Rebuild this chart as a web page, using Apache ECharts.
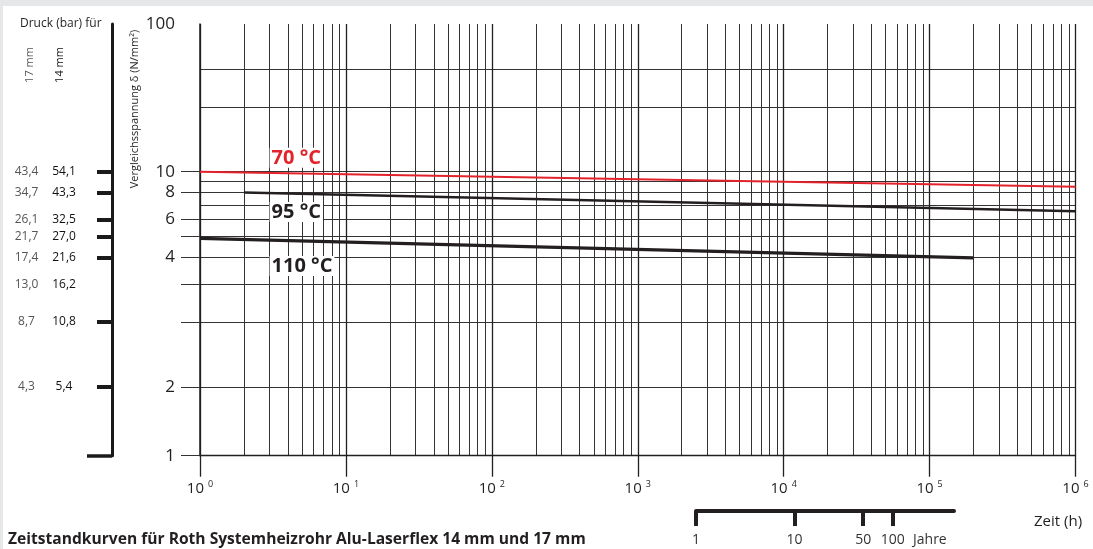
<!DOCTYPE html>
<html lang="de">
<head>
<meta charset="utf-8">
<title>Zeitstandkurven Alu-Laserflex</title>
<script src="https://cdn.jsdelivr.net/npm/echarts@6.0.0/dist/echarts.min.js"></script>
<style>
  html, body { margin: 0; padding: 0; background: #fff; }
  #chart { width: 1093px; height: 549px; }
</style>
</head>
<body>
<div id="chart"></div>
<script>
// Achsenbereiche
const hoursMin = 1;
const hoursMax = 1e6;
const stressMin = 0.478;
const stressMax = 48.6;

// Zeitstandkurven: Zeit (h) / Vergleichsspannung (N/mm²)
const curveNames = ['70 °C', '95 °C', '110 °C'];
const hours70 = [1, 1e6];
const stress70 = [10, 8.5];
const hours95 = [2, 1e6];
const stress95 = [8.0, 6.55];
const hours110 = [1, 2e5];
const stress110 = [4.9, 3.97];

// Rasterlinien
const gridHours = [2, 3, 4, 5, 6, 7, 8, 9,
  20, 30, 40, 50, 60, 70, 80, 90,
  200, 300, 400, 500, 600, 700, 800, 900,
  2000, 3000, 4000, 5000, 6000, 7000, 8000, 9000,
  20000, 30000, 40000, 50000, 60000, 70000, 80000, 90000,
  200000, 300000, 400000, 500000, 600000, 700000, 800000, 900000];
const gridStress = [1, 2, 3, 4, 5, 6, 7, 8, 9, 10, 20, 30];

// Spannungsachse: Striche und Beschriftung (so wie im Original gedruckt)
const stressTicks = [stressMin, 1, 2, 3, 4, 5, 6, 8, 10];
const stressLabelAt = [stressMin, 1, 4, 6, 8, 10, stressMax];
const stressLabelText = ['1', '2', '4', '6', '8', '10', '100'];

// Druckachse (bar) für 17 mm / 14 mm
const pressLevels = [1, 2, 3, 4, 5, 6, 8, 10];
const pressTickAt = [1, 2, 4, 5, 6, 8, 10];
const press17 = ['4,3', '8,7', '13,0', '17,4', '21,7', '26,1', '34,7', '43,4'];
const press14 = ['5,4', '10,8', '16,2', '21,6', '27,0', '32,5', '43,3', '54,1'];

// Jahresskala
const yearTicks = [1, 10, 50, 100];
const yearMax = 418;

const font = 'Open Sans';
const ink = '#231f20';
const red = '#e3222b';

function findIdx(list, v) {
  for (let i = 0; i < list.length; i++) {
    if (Math.abs(list[i] - v) / list[i] < 0.01) return i;
  }
  return -1;
}

const pairs = (xs, ys) => xs.map((x, i) => [x, ys[i]]);

function curveLabel(text, color, coord) {
  return {
    symbolSize: 0,
    silent: true,
    data: [{ coord: coord }],
    label: {
      show: true, position: 'right', distance: 0,
      formatter: text, color: color,
      fontFamily: font, fontSize: 20, fontWeight: 'bold',
      backgroundColor: '#fff', padding: [0, 2, 0, 2]
    }
  };
}

const chart = echarts.init(document.getElementById('chart'));

chart.setOption({
  animation: false,
  backgroundColor: '#fff',
  textStyle: { fontFamily: font, color: ink },
  grid: [
    { left: 200, right: 17.5, top: 24, bottom: 93.3 },
    { left: 696, width: 258, top: 510, height: 1 }
  ],
  xAxis: [
    {
      type: 'log', logBase: 10, min: hoursMin, max: hoursMax, gridIndex: 0,
      position: 'bottom',
      axisLine: { lineStyle: { color: ink, width: 1.3 } },
      axisTick: { show: true, length: 21, lineStyle: { color: ink, width: 1.3 } },
      splitLine: { show: true, lineStyle: { color: ink, width: 1.3 } },
      axisLabel: {
        margin: 24,
        formatter: function (v) {
          return '{b|10}{s|' + Math.round(Math.log10(v)) + '}';
        },
        rich: {
          b: { fontSize: 15, color: ink, fontFamily: font },
          s: { fontSize: 9, color: ink, fontFamily: font, padding: [0, 0, 10, 4] }
        }
      }
    },
    {
      type: 'log', logBase: 10, min: hoursMin, max: hoursMax, gridIndex: 0,
      position: 'bottom',
      axisLine: { show: false },
      axisTick: { show: false, customValues: gridHours },
      axisLabel: { show: false },
      splitLine: { show: true, lineStyle: { color: '#333', width: 1 } }
    },
    {
      type: 'log', logBase: 10, min: 1, max: yearMax, gridIndex: 1,
      position: 'bottom',
      axisLine: { lineStyle: { color: ink, width: 4 } },
      axisTick: { customValues: yearTicks, length: 15, lineStyle: { color: ink, width: 4 } },
      axisLabel: { customValues: yearTicks, margin: 22, fontSize: 14, color: '#333' },
      splitLine: { show: false }
    }
  ],
  yAxis: [
    {
      type: 'log', logBase: 10, min: stressMin, max: stressMax, gridIndex: 0,
      position: 'left',
      axisLine: { show: false },
      axisTick: { show: false, customValues: gridStress },
      axisLabel: { show: false },
      splitLine: { show: true, lineStyle: { color: '#333', width: 1 } }
    },
    {
      type: 'log', logBase: 10, min: stressMin, max: stressMax, gridIndex: 0,
      position: 'left',
      axisLine: { show: true, lineStyle: { color: ink, width: 1.5 } },
      axisTick: { customValues: stressTicks, length: 19, lineStyle: { color: '#333', width: 1 } },
      axisLabel: {
        customValues: stressLabelAt, margin: 25, fontSize: 17, color: ink,
        formatter: function (v) {
          const i = findIdx(stressLabelAt, v);
          return i < 0 ? '' : stressLabelText[i];
        }
      },
      splitLine: { show: false }
    },
    {
      type: 'log', logBase: 10, min: stressMin, max: stressMax, gridIndex: 0,
      position: 'left', offset: 88,
      axisLine: { show: true, lineStyle: { color: '#1a1a1a', width: 3 } },
      axisTick: { customValues: pressTickAt, length: 15, lineStyle: { color: '#1a1a1a', width: 4 } },
      axisLabel: {
        customValues: pressLevels, margin: 36,
        formatter: function (v) {
          const i = findIdx(pressLevels, v);
          return i < 0 ? '' : '{a|' + press17[i] + '}{b|' + press14[i] + '}';
        },
        rich: {
          a: { width: 33, align: 'right', fontSize: 12, color: '#555', fontFamily: font },
          b: { width: 24, align: 'left', fontSize: 12, color: '#111', fontFamily: font, padding: [0, 0, 0, 9] }
        }
      },
      splitLine: { show: false }
    },
    {
      type: 'log', logBase: 10, min: stressMin, max: stressMax, gridIndex: 0,
      position: 'left', offset: 88,
      axisLine: { show: false },
      axisTick: { customValues: [stressMin], length: 25, lineStyle: { color: '#1a1a1a', width: 3.5 } },
      axisLabel: { show: false },
      splitLine: { show: false }
    },
    { type: 'value', gridIndex: 1, show: false }
  ],
  series: [
    {
      name: curveNames[0], type: 'line', xAxisIndex: 0, yAxisIndex: 0,
      data: pairs(hours70, stress70), symbol: 'none',
      lineStyle: { color: red, width: 2 }, z: 5,
      markPoint: curveLabel(curveNames[0], red, [3, 11.6])
    },
    {
      name: curveNames[1], type: 'line', xAxisIndex: 0, yAxisIndex: 0,
      data: pairs(hours95, stress95), symbol: 'none',
      lineStyle: { color: ink, width: 2.5 }, z: 5,
      markPoint: curveLabel(curveNames[1], ink, [3, 6.5])
    },
    {
      name: curveNames[2], type: 'line', xAxisIndex: 0, yAxisIndex: 0,
      data: pairs(hours110, stress110), symbol: 'none',
      lineStyle: { color: ink, width: 3.3 }, z: 5,
      markPoint: curveLabel(curveNames[2], ink, [3, 3.64])
    }
  ],
  graphic: [
    { type: 'rect', shape: { x: 0, y: 0, width: 1093, height: 6 }, style: { fill: '#e6e7e9' }, silent: true },
    { type: 'rect', shape: { x: 0, y: 0, width: 3, height: 549 }, style: { fill: '#e6e7e9' }, silent: true },
    { type: 'text', x: 20, y: 24, style: { text: 'Druck (bar) für', font: '12px "Open Sans"', fill: ink, textVerticalAlign: 'middle' } },
    { type: 'text', x: 30, y: 65, rotation: Math.PI / 2, style: { text: '17 mm', font: '11px "Open Sans"', fill: '#555', textAlign: 'center', textVerticalAlign: 'middle' } },
    { type: 'text', x: 60, y: 65, rotation: Math.PI / 2, style: { text: '14 mm', font: '11px "Open Sans"', fill: '#111', textAlign: 'center', textVerticalAlign: 'middle' } },
    { type: 'text', x: 135, y: 109, rotation: Math.PI / 2, style: { text: 'Vergleichsspannung δ (N/mm²)', font: '11px "Open Sans"', fill: ink, textAlign: 'center', textVerticalAlign: 'middle' } },
    { type: 'text', x: 1034, y: 522, style: { text: 'Zeit (h)', font: '15px "Open Sans"', fill: ink, textVerticalAlign: 'middle' } },
    { type: 'text', x: 913, y: 540, style: { text: 'Jahre', font: '14px "Open Sans"', fill: '#333', textVerticalAlign: 'middle' } },
    { type: 'text', x: 8, y: 540, style: { text: 'Zeitstandkurven für Roth Systemheizrohr Alu-Laserflex 14 mm und 17 mm', font: 'bold 15.6px "Open Sans"', fill: ink, textVerticalAlign: 'middle' } }
  ]
});
</script>
</body>
</html>
